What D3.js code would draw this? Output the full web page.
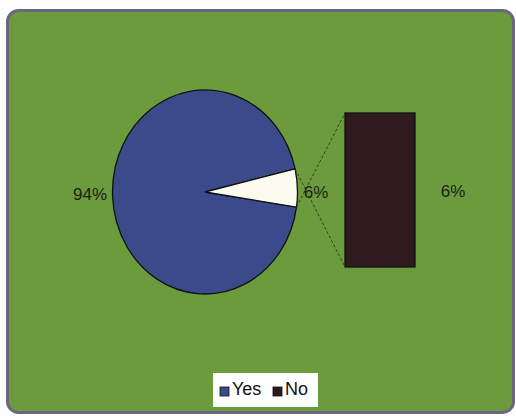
<!DOCTYPE html>
<html>
<head>
<meta charset="utf-8">
<script src="https://cdn.jsdelivr.net/npm/d3@7"></script>
<style>
  body { margin: 0; background: #ffffff; }
  svg { display: block; font-family: "Liberation Sans", Arial, sans-serif; }
</style>
</head>
<body>
<svg id="chart" width="516" height="416"></svg>
<script>
// data
const categories = ["Yes", "No"];
const values = [94, 6];
const labels = ["94%", "6%"];
const barValues = [6];          // the split-out slice, shown as a bar
const barLabels = ["6%"];

const colors = { Yes: "#3b4a8b", No: "#2f1a20" };
const sliceFill = { Yes: "#3b4a8b", No: "#fbfbef" };

const svg = d3.select("#chart");

// frame
svg.append("rect")
    .attr("x", 7.5).attr("y", 10.5)
    .attr("width", 506).attr("height", 402)
    .attr("rx", 11)
    .attr("fill", "#6c9b3d")
    .attr("stroke", "#6b6582")
    .attr("stroke-width", 3);

// pie (elliptical, like the reference)
const cx = 205, cy = 192, rx = 92.5, ry = 102;
const total = d3.sum(values);
// small slice sits just above 3 o'clock
const smallAngle = values[1] / total * 2 * Math.PI;
const tilt = 0.04;
const startA = Math.PI / 2 + smallAngle / 2 - tilt;

const pie = d3.pie().sort(null)
    .startAngle(startA)
    .endAngle(startA + 2 * Math.PI);
const arcs = pie(values);
const arc = d3.arc().innerRadius(0).outerRadius(1);

const pieG = svg.append("g")
    .attr("transform", `translate(${cx},${cy}) scale(${rx},${ry})`);

pieG.selectAll("path")
    .data(arcs)
    .join("path")
    .attr("d", arc)
    .attr("fill", (d, i) => sliceFill[categories[i]])
    .attr("stroke", "#111")
    .attr("stroke-width", 1.3)
    .attr("vector-effect", "non-scaling-stroke");

// points where the small slice meets the rim
function rim(a) {
    return [cx + rx * Math.sin(a), cy - ry * Math.cos(a)];
}
const small = arcs[1];
const pTop = rim(small.endAngle);
const pBot = rim(small.startAngle);

// bar of pie
const barX = 345, barW = 70;
const yBar = d3.scaleLinear().domain([0, d3.sum(barValues)]).range([267, 113]);

svg.append("line")
    .attr("x1", pTop[0]).attr("y1", pTop[1])
    .attr("x2", barX).attr("y2", yBar(d3.sum(barValues)))
    .attr("stroke", "#2c3a22").attr("stroke-width", 0.9)
    .attr("stroke-dasharray", "3,2");
svg.append("line")
    .attr("x1", pBot[0]).attr("y1", pBot[1])
    .attr("x2", barX).attr("y2", yBar(0))
    .attr("stroke", "#2c3a22").attr("stroke-width", 0.9)
    .attr("stroke-dasharray", "3,2");

svg.selectAll("rect.bar")
    .data(barValues)
    .join("rect")
    .attr("class", "bar")
    .attr("x", barX)
    .attr("y", d => yBar(d))
    .attr("width", barW)
    .attr("height", d => yBar(0) - yBar(d))
    .attr("fill", colors.No)
    .attr("stroke", "#111")
    .attr("stroke-width", 1.3);

// labels
const labelStyle = sel => sel
    .attr("font-size", 17)
    .attr("fill", "#1a1f16")
    .attr("text-anchor", "middle");

svg.append("text").call(labelStyle)
    .attr("x", 90).attr("y", 200)
    .text(labels[0]);
svg.append("text").call(labelStyle)
    .attr("x", 316).attr("y", 198)
    .text(labels[1]);
svg.append("text").call(labelStyle)
    .attr("x", 453).attr("y", 197)
    .text(barLabels[0]);

// legend
const legend = svg.append("g").attr("transform", "translate(213,373)");
legend.append("rect")
    .attr("width", 105).attr("height", 34)
    .attr("fill", "#ffffff");

const legendX = [7, 60];
categories.forEach((c, i) => {
    const row = legend.append("g").attr("transform", `translate(${legendX[i]},0)`);
    row.append("rect")
        .attr("x", 0).attr("y", 14)
        .attr("width", 9).attr("height", 9)
        .attr("fill", colors[c])
        .attr("stroke", "#111").attr("stroke-width", 0.8);
    row.append("text")
        .attr("x", 12).attr("y", 22)
        .attr("font-size", 18)
        .attr("fill", "#111")
        .text(c);
});
</script>
</body>
</html>
